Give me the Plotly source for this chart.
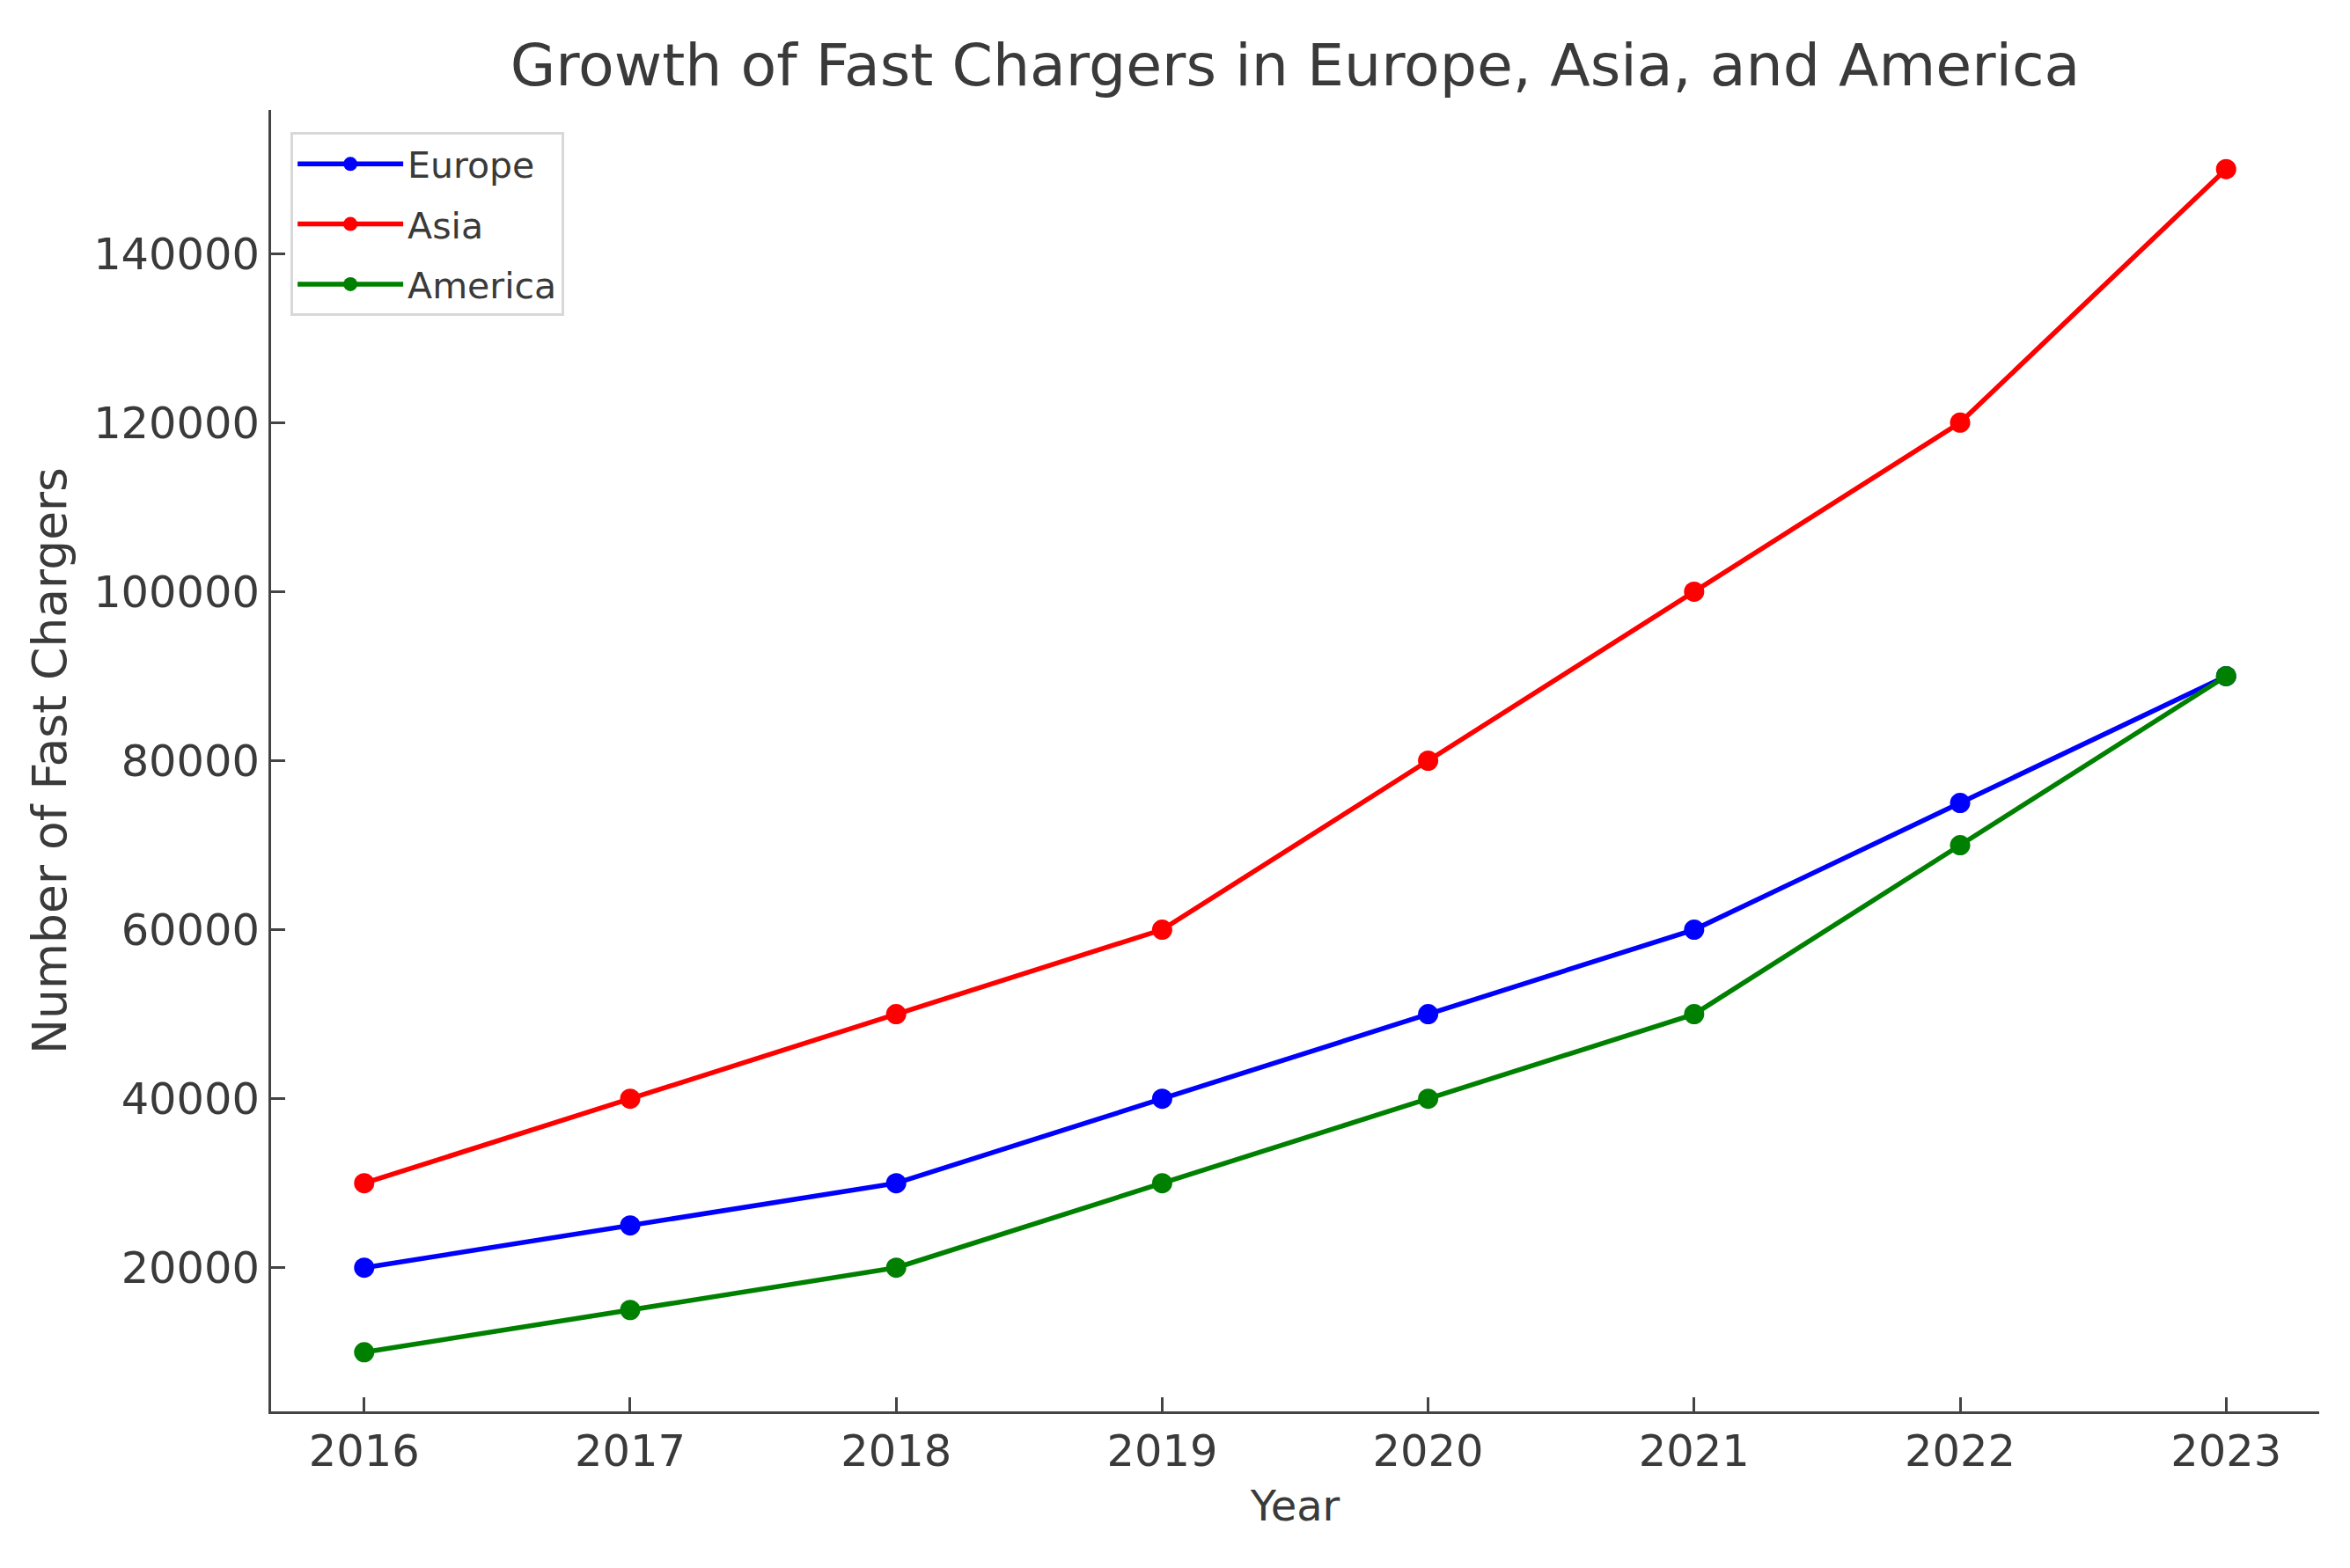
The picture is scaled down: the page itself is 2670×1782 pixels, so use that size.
import plotly.graph_objects as go

years = [2016, 2017, 2018, 2019, 2020, 2021, 2022, 2023]
europe = [20000, 25000, 30000, 40000, 50000, 60000, 75000, 90000]
asia = [30000, 40000, 50000, 60000, 80000, 100000, 120000, 150000]
america = [10000, 15000, 20000, 30000, 40000, 50000, 70000, 90000]
series_names = ["Europe", "Asia", "America"]
series_colors = ["#0000ff", "#ff0000", "#008000"]
y_tick_vals = [20000, 40000, 60000, 80000, 100000, 120000, 140000]

TEXT = "#3a3a3a"
AXIS = "#444444"
FONT = "DejaVu Sans"
W, H = 2654, 1766

fig = go.Figure()
for name, vals, col in zip(series_names, [europe, asia, america], series_colors):
    fig.add_trace(go.Scatter(
        x=years, y=vals, name=name, mode="lines+markers",
        legendgroup=name,
        line=dict(color=col, width=5.5),
        marker=dict(color=col, size=23),
    ))

fig.update_layout(
    width=W, height=H,
    paper_bgcolor="white", plot_bgcolor="white",
    margin=dict(l=300, r=27, t=117, b=170),
    font=dict(family=FONT, color=TEXT, size=49.5),
    title=dict(
        text="Growth of Fast Chargers in Europe, Asia, and America",
        x=0.5, xref="paper", xanchor="center",
        y=1 - 66 / H, yref="container", yanchor="middle",
        font=dict(family=FONT, size=66.5, color=TEXT),
    ),
    legend=dict(
        x=0.0095, y=0.983, xanchor="left", yanchor="top",
        bgcolor="white", bordercolor="#d8d8d8", borderwidth=3,
        font=dict(family=FONT, size=41, color=TEXT),
        itemwidth=120, tracegroupgap=12,
        entrywidth=294, entrywidthmode="pixels",
    ),
    showlegend=True,
)

fig.update_xaxes(
    range=[2015.65, 2023.35], tickmode="array", tickvals=years,
    ticktext=[str(y) for y in years],
    showgrid=False, zeroline=False,
    showline=True, linecolor=AXIS, linewidth=3, mirror=False,
    ticks="inside", ticklen=16, tickwidth=2.5, tickcolor=AXIS,
    tickfont=dict(family=FONT, size=49.5, color=TEXT),
    title=dict(text="Year", font=dict(family=FONT, size=48, color=TEXT), standoff=17),
)
fig.update_yaxes(
    range=[3000, 157000], tickmode="array", tickvals=y_tick_vals,
    ticktext=[str(v) for v in y_tick_vals],
    showgrid=False, zeroline=False,
    showline=True, linecolor=AXIS, linewidth=3, mirror=False,
    ticks="inside", ticklen=16, tickwidth=2.5, tickcolor=AXIS,
    tickfont=dict(family=FONT, size=49.5, color=TEXT),
    title=dict(text="Number of Fast Chargers", font=dict(family=FONT, size=53.5, color=TEXT), standoff=14),
)

fig.write_html("out.html")
